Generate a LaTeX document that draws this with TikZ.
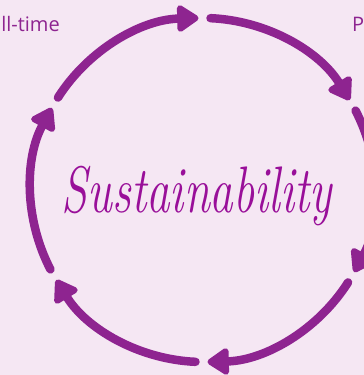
\documentclass[tikz,border=0pt]{standalone}
\usepackage{fontspec}
\setsansfont{Open Sans}
\usetikzlibrary{arrows.meta,positioning}
\definecolor{bgpink}{HTML}{F5E7F3}
\definecolor{cycpurple}{HTML}{8E2490}
\definecolor{scriptpurple}{HTML}{990F99}
\begin{document}
\begin{tikzpicture}[x=1pt, y=1pt,
    cyc/.style={line width=8.5pt, line cap=round, draw=cycpurple,
                -{Triangle[length=24pt, width=30pt, round]}},
    title/.style={font=\itshape\fontsize{47}{50}\selectfont,
                  text=scriptpurple, inner sep=0pt, yscale=1.4, transform shape},
    tag/.style={font=\sffamily\fontsize{20}{24}\selectfont, text=cycpurple, inner sep=0pt}
]
\useasboundingbox (0,0) rectangle (364,375);
\fill[bgpink] (0,0) rectangle (364,375);
\clip (0,0) rectangle (364,375);

\coordinate (c) at (203,185);
\node[title, anchor=base] (core) at (197,162) {Sustainability};
\node[tag, anchor=base east] (full) at (60,343) {Full-time};
\node[tag, anchor=base west] (part) at (352,343) {Part-time};

% six arcs of the cycle, clockwise
\foreach \k in {0,...,5}
  \draw[cyc] (c) ++({147.5-60*\k}:172)
    arc[start angle={147.5-60*\k}, end angle={91.5-60*\k}, radius=172];

\end{tikzpicture}
\end{document}
